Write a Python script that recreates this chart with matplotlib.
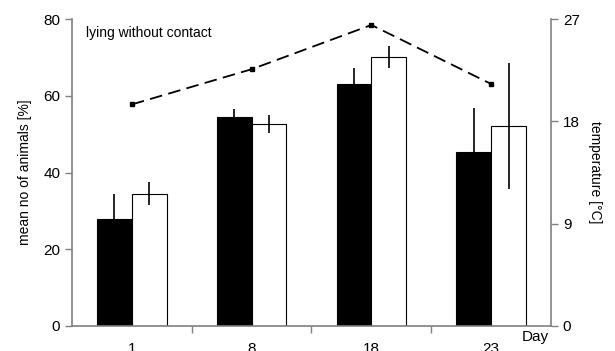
import numpy as np
import matplotlib.pyplot as plt

plt.rcParams['font.family'] = ['Liberation Sans', 'DejaVu Sans']

days = ['1', '8', '18', '23']
black_vals = [27.9, 54.6, 63.1, 45.4]
black_err = [6.4, 2.0, 4.1, 11.5]
white_vals = [34.4, 52.7, 70.2, 52.2]
white_err = [3.0, 2.4, 2.8, 16.4]
temperature = [19.5, 22.6, 26.5, 21.3]

fig = plt.figure(figsize=(6.15, 3.51), dpi=100)
ax = fig.add_axes([0.117, 0.072, 0.779, 0.873])
x = np.arange(1, len(days) + 1)
w = 0.29
gray = '#808080'

ax.bar(x - w/2, black_vals, w, color='black', edgecolor='black', linewidth=0.8, zorder=2)
ax.bar(x + w/2, white_vals, w, color='white', edgecolor='black', linewidth=0.8, zorder=2)
ax.errorbar(x - w/2, black_vals, yerr=black_err, fmt='none', ecolor='black', elinewidth=1.2, capsize=0, zorder=3)
ax.errorbar(x + w/2, white_vals, yerr=white_err, fmt='none', ecolor='black', elinewidth=1.2, capsize=0, zorder=3)

ax.set_xlim(0.5, 4.5)
ax.set_ylim(0, 80)
ax.set_yticks([0, 20, 40, 60, 80])
ax.set_xticks([1.5, 2.5, 3.5])
ax.set_xticklabels([])
ax.set_xticks(x, minor=True)
ax.set_xticklabels(days, minor=True)
ax.tick_params(axis='x', which='minor', length=0, pad=12, labelsize=11)
ax.tick_params(axis='x', which='major', length=5, color=gray, width=1)
ax.tick_params(axis='y', length=5, color=gray, width=1, labelsize=11)
for s in ['top', 'right']:
    ax.spines[s].set_visible(False)
for s in ['left', 'bottom']:
    ax.spines[s].set_color(gray)
    ax.spines[s].set_linewidth(1.2)
ax.set_ylabel('mean no of animals [%]', fontsize=10, labelpad=8)
ax.text(0.03, 0.955, 'lying without contact', transform=ax.transAxes, fontsize=10, va='center')

ax2 = ax.twinx()
ax2.plot(x, temperature, color='black', linestyle=(0, (7, 3.5)), linewidth=1.3,
         marker='s', markersize=3.5, zorder=4)
ax2.set_ylim(0, 27)
ax2.set_yticks([0, 9, 18, 27])
ax2.tick_params(axis='y', length=5, color=gray, width=1, labelsize=11)
for s in ['top', 'left', 'bottom']:
    ax2.spines[s].set_visible(False)
ax2.spines['right'].set_color(gray)
ax2.spines['right'].set_linewidth(1.2)
ax2.set_ylabel('temperature [°C]', fontsize=10, rotation=-90, labelpad=16)

fig.text(535/615, 1 - 337/351, 'Day', fontsize=11, ha='center', va='center')

fig.savefig('out.png', dpi=100)
